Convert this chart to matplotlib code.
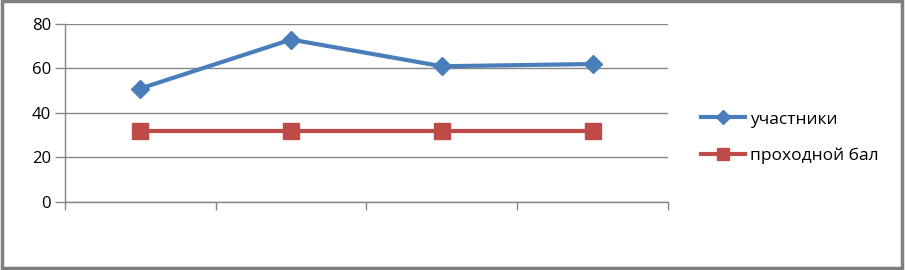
import matplotlib

matplotlib.use("Agg")
import matplotlib.pyplot as plt
from matplotlib.lines import Line2D
from matplotlib.patches import Rectangle

plt.rcParams["font.family"] = ["Open Sans", "DejaVu Sans"]

# values
categories = ["1", "2", "3", "4"]
participants = [51, 73, 61, 62]
passing_score = [32, 32, 32, 32]
y_ticks = [0, 20, 40, 60, 80]
series_labels = ["участники", "проходной бал"]

BLUE = "#4a7ebb"
RED = "#be4b48"
GRID = "#868686"

fig = plt.figure(figsize=(9.06, 2.70), dpi=100)
ax = fig.add_axes([0.0717, 0.2519, 0.6656, 0.6593])

x = list(range(len(categories)))
ax.plot(x, participants, color=BLUE, lw=3, marker="D", ms=9,
        label=series_labels[0], zorder=3)
ax.plot(x, passing_score, color=RED, lw=3, marker="s", ms=11,
        label=series_labels[1], zorder=3)

ax.set_xlim(-0.5, len(categories) - 0.5)
ax.set_ylim(0, 80)
ax.set_yticks(y_ticks)
ax.set_yticklabels([str(v) for v in y_ticks], fontsize=12)
ax.yaxis.grid(True, color=GRID, lw=1)
ax.set_axisbelow(True)

# category boundaries as tick marks, no labels
ax.set_xticks([i - 0.5 for i in range(len(categories) + 1)])
ax.set_xticklabels([])
ax.tick_params(axis="x", length=6, color=GRID, width=1)
ax.tick_params(axis="y", length=7, color=GRID, width=1, pad=3)

for side in ("top", "right"):
    ax.spines[side].set_visible(False)
for side in ("left", "bottom"):
    ax.spines[side].set_color(GRID)
    ax.spines[side].set_linewidth(1)

handles = [
    Line2D([], [], color=BLUE, lw=3, marker="D", ms=7),
    Line2D([], [], color=RED, lw=3, marker="s", ms=9),
]
fig.legend(handles, series_labels, loc="center left",
           bbox_to_anchor=(0.757, 0.49), frameon=False, fontsize=12.5,
           handlelength=2.5, handletextpad=0.3, labelspacing=1.15)

# chart frame with a darker shadow edge
fig.patches.append(Rectangle((0.002, 0.008), 0.994, 0.99, transform=fig.transFigure,
                             fill=False, edgecolor="#7f7f7f", lw=2.5))

fig.savefig("out.png", dpi=100)
